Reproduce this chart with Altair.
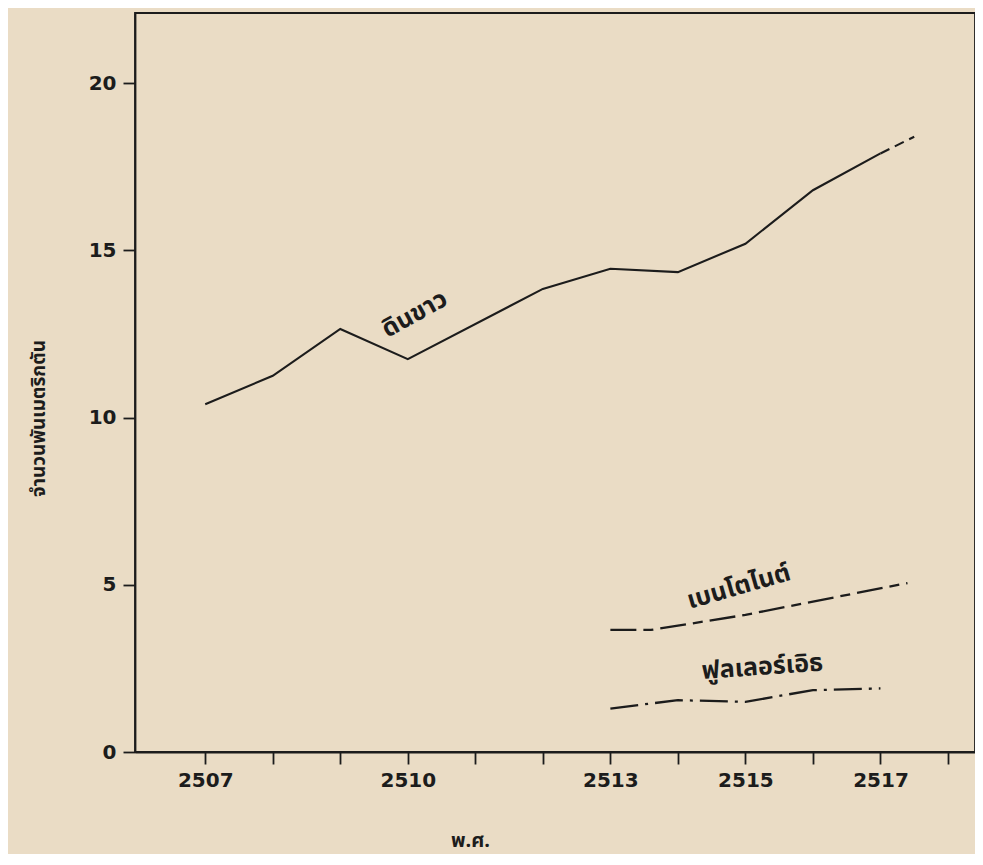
import altair as alt
import pandas as pd

# ---- data ----
clay_years = [2507, 2508, 2509, 2510, 2512, 2513, 2514, 2515, 2516, 2517]
clay_values = [10.4, 11.25, 12.65, 11.75, 13.85, 14.45, 14.35, 15.2, 16.8, 17.9]

clay_proj_years = [2517, 2517.5]
clay_proj_values = [17.9, 18.4]

bent_years = [2513, 2513.6, 2515, 2516, 2517.4]
bent_values = [3.65, 3.65, 4.1, 4.5, 5.05]

fuller_years = [2513, 2514, 2515, 2516, 2517]
fuller_values = [1.3, 1.55, 1.5, 1.85, 1.9]

tick_years = list(range(2507, 2519))
label_years = [2507, 2510, 2513, 2515, 2517]
y_ticks = [0, 5, 10, 15, 20]

series_labels = ["ดินขาว", "เบนโตไนต์", "ฟูลเลอร์เอิธ"]
series_label_x = [2510.1, 2514.9, 2515.25]
series_label_y = [13.1, 4.95, 2.55]
series_label_angle = [331, 344, 356]

y_title = "จำนวนพันเมตริกตัน"
x_title = "พ.ศ."

# ---- tables ----
df_clay = pd.DataFrame({"year": clay_years, "value": clay_values})
df_proj = pd.DataFrame({"year": clay_proj_years, "value": clay_proj_values})
df_bent = pd.DataFrame({"year": bent_years, "value": bent_values})
df_full = pd.DataFrame({"year": fuller_years, "value": fuller_values})
df_lab = pd.DataFrame({"year": series_label_x, "value": series_label_y,
                       "text": series_labels, "angle": series_label_angle})

INK = "#1c1c1c"
THAI = "Noto Sans Thai, Noto Sans, Loma, Garuda, sans-serif"
NUM = "DejaVu Sans"

label_list = ",".join(str(v) for v in label_years)
x_scale = alt.Scale(domain=[2505.96, 2518.4], nice=False, zero=False)
y_scale = alt.Scale(domain=[0, 22.1], nice=False, zero=False)

x_axis = alt.Axis(
    values=tick_years, format="d",
    labelExpr=f"indexof([{label_list}], datum.value) >= 0 ? datum.label : ''",
    title=x_title, titleX=335, titleY=88, titleAlign="center", titleBaseline="middle",
    titleFont=THAI, titleFontSize=20, titleFontWeight="bold", titleColor=INK,
    labelFlush=False, labelOverlap=False, labelPadding=6,
)
y_axis = alt.Axis(
    values=y_ticks, format="d",
    title=y_title, titleX=-97, titleY=405, titleAngle=270,
    titleAlign="center", titleBaseline="middle",
    titleFont=THAI, titleFontSize=19, titleFontWeight="bold", titleColor=INK,
    labelPadding=7, labelFlush=False,
)

X = alt.X("year:Q", scale=x_scale, axis=x_axis)
Y = alt.Y("value:Q", scale=y_scale, axis=y_axis)

clay = alt.Chart(df_clay).mark_line(color=INK, strokeWidth=2.1).encode(x=X, y=Y)
proj = alt.Chart(df_proj).mark_line(color=INK, strokeWidth=2.1, strokeDash=[10, 6]).encode(x=X, y=Y)
bent = alt.Chart(df_bent).mark_line(color=INK, strokeWidth=2.3, strokeDash=[26, 7, 10, 7]).encode(x=X, y=Y)
full = alt.Chart(df_full).mark_line(color=INK, strokeWidth=2.3, strokeDash=[28, 7, 3, 7]).encode(x=X, y=Y)

labels = alt.Chart(df_lab).mark_text(
    font=THAI, fontSize=25, fontWeight="bold", color=INK, align="center", baseline="middle"
).encode(x=X, y=Y, text="text:N", angle=alt.Angle("angle:Q", scale=None))

chart = alt.layer(clay, proj, bent, full, labels).properties(
    width=840, height=739,
    autosize=alt.AutoSizeParams(type="none"),
    padding={"left": 127, "top": 5, "right": 0, "bottom": 102},
    background="#eadcc5",
).configure_view(
    stroke=INK, strokeWidth=1.8
).configure_axis(
    grid=False, domainColor=INK, domainWidth=1.8, tickColor=INK, tickWidth=1.8,
    tickSize=12, labelFont=NUM, labelFontWeight="bold", labelFontSize=20, labelColor=INK,
)

chart.save("out.html", embed_options={"renderer": "svg", "actions": False})
